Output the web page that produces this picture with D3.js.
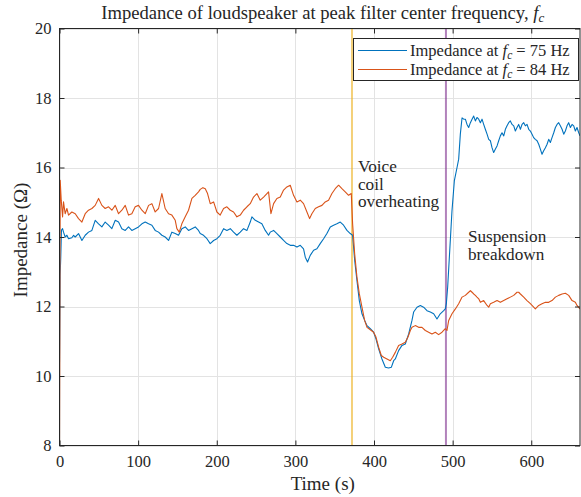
<!DOCTYPE html>
<html>
<head>
<meta charset="utf-8">
<script src="https://cdn.jsdelivr.net/npm/d3@7"></script>
<style>
  html, body { margin: 0; padding: 0; background: #fff; }
  svg { display: block; }
  text { font-family: "Liberation Serif", "Times New Roman", serif; fill: #262626; }
</style>
</head>
<body>
<svg id="chart" width="581" height="497"></svg>
<script>
// Impedance at fc = 75 Hz (time in s, impedance in ohm)
const timeA = [0,0.8,1.6,2.5,3.9,5.1,7.2,9.4,11.5,15.7,17.9,20,24.2,28.5,32.7,36.9,41.2,45.4,49.7,53.9,58.1,62.4,66.6,70.9,75.1,79.3,83.6,87.8,92,96.3,100.5,104.8,109,113.3,117.5,121.7,126,130.2,134.4,138.7,142.9,147.2,151.4,155.6,159.9,164.1,168.4,172.6,176.8,179,183.2,187.5,191.7,196,200.2,204.4,208.7,212.9,217.2,221.4,225.6,229.9,234.1,238.4,242.6,244.7,249,253.2,257.4,261.7,265.9,268,272.3,276.5,280.8,285,289.2,293.5,297.7,302,306.2,310.4,312.6,315.5,318.9,323.2,327.4,331.6,335.9,340.1,344.4,348.6,352.8,357.1,361.3,365.6,369.8,372.8,375.4,378.3,381.3,384.7,388.1,391.1,395.3,399.5,402.5,405.9,410.1,414.4,418.6,422,425,427.1,431.3,435.6,439.8,444.1,448.3,450.4,454.7,458.9,463.1,467.4,471.6,475.9,480.1,484.3,488.6,490.7,492,493.7,496.3,499.2,502.2,505.6,507.7,509.8,512,514.1,516.2,518.3,520.4,522.6,524.7,526.8,528.9,531,533.2,535.3,537.4,539.5,541.6,543.8,545.9,548,550.1,552.2,554.4,556.5,558.6,560.7,562.8,565,567.1,569.2,571.3,573.4,575.6,577.7,579.8,581.9,584,586.2,588.3,590.4,592.5,594.6,596.8,598.9,601,603.1,605.2,607.4,609.5,611.6,613.7,615.8,618,620.1,622.2,624.3,626.4,628.6,630.7,632.8,634.9,637,639.2,641.3,643.4,645.5,647.6,649.8,651.9,654,656.1,658.2,660.4,662];
const impedanceA = [10.4,12.9,13.4,14.2,14.24,14.14,14.0,14.05,13.95,13.98,14.05,14.0,14.1,13.9,14.05,14.14,14.19,14.48,14.38,14.29,14.43,14.34,14.24,14.48,14.43,14.24,14.19,14.29,14.19,14.24,14.29,14.38,14.43,14.38,14.34,14.19,14.14,14.05,14.0,13.9,14.14,14.1,14.05,14.24,14.29,14.19,14.24,14.29,14.19,14.1,14.05,13.95,13.81,13.9,13.95,14.05,14.24,14.19,14.24,14.14,14.05,14.14,14.24,14.19,14.43,14.58,14.48,14.43,14.38,14.19,14.05,14.14,14.19,14.1,14.0,13.9,13.81,13.76,13.76,13.71,13.76,13.66,13.42,13.28,13.47,13.62,13.66,13.81,13.95,14.1,14.29,14.34,14.38,14.43,14.34,14.19,14.1,14.05,13.33,12.75,12.17,11.79,11.6,11.45,11.36,11.26,11.07,10.78,10.49,10.25,10.23,10.25,10.44,10.49,10.73,10.88,10.92,11.21,11.6,11.84,11.98,12.03,11.98,11.88,11.84,11.79,11.64,11.79,11.88,11.93,12.08,12.56,13.6,14.76,15.62,16.0,16.24,16.96,17.43,17.39,17.39,17.24,17.15,17.29,17.39,17.48,17.34,17.44,17.39,17.29,17.39,17.24,17.1,16.96,16.81,16.77,16.57,16.43,16.53,16.62,16.77,16.91,17.0,16.91,17.1,17.2,17.29,17.34,17.24,17.2,17.05,17.15,17.24,17.1,17.24,17.29,17.2,17.24,17.1,17.05,16.96,16.86,16.81,16.77,16.67,16.53,16.38,16.48,16.57,16.67,16.81,16.72,16.86,17.0,17.15,17.24,17.29,17.2,17.1,16.96,17.05,17.2,17.29,17.15,17.24,17.2,17.05,17.15,17.0,16.91];

// Impedance at fc = 84 Hz (time in s, impedance in ohm)
const timeB = [0,0.9,2.2,3.9,5.1,7.2,9.4,11.5,15.7,20,24.2,28.5,32.7,36.9,41.2,45.4,49.7,53.9,58.1,62.4,66.6,70.9,75.1,79.3,83.6,87.8,92,96.3,100.5,104.8,109,113.3,117.5,121.7,126,130.2,134.4,138.7,142.9,147.2,149.3,152.3,155.6,159.9,164.1,168.4,172.6,176.8,179,182.4,185.4,188.3,191.7,196,200.2,204.4,208.7,212.9,217.2,221.4,225.6,229.9,234.1,238.4,242.6,246.8,251.1,255.3,259.6,263.8,265.9,268.9,272.3,276.5,280.8,285,289.2,293.5,297.7,302,306.2,310.4,314.7,318.1,321,325.3,329.5,333.8,338,342.2,346.5,350.7,355,359.2,363.4,367.7,371.1,372.8,375.4,378.3,381.3,384.7,388.1,391.1,395.3,399.5,402.5,405.9,409.3,412.3,416.5,420.7,423.7,427.1,431.3,435.6,439.8,443.2,446.2,448.3,452.5,456.8,461,465.3,469.5,473.7,478,482.2,486.5,490.7,492.8,495,499.2,503.5,507.7,512,516.2,520.4,522.6,524.7,526.8,528.9,531,533.2,535.3,539.5,543.8,545.9,548,552.2,556.5,560.7,565,569.2,573.4,577.7,581.9,584,586.2,590.4,594.6,598.9,603.1,605.2,609.5,613.7,618,622.2,626.4,630.7,634.9,639.2,643.4,647.6,651.9,656.1,658.2,662];
const impedanceB = [8.1,15.63,15.06,14.58,15.01,14.67,14.82,14.63,14.72,14.67,14.53,14.43,14.67,14.77,14.82,14.91,15.11,14.91,14.82,14.87,14.77,14.91,14.67,14.77,14.91,14.63,14.67,14.87,14.91,14.77,14.67,14.91,14.96,14.72,14.82,15.25,14.82,14.67,14.63,14.48,14.24,14.14,14.38,14.58,14.77,15.11,15.2,15.3,15.37,15.42,15.39,15.25,14.96,15.01,14.72,14.63,14.82,14.87,14.77,14.72,14.58,14.63,14.77,14.87,14.96,15.15,15.25,15.06,15.15,15.25,15.3,14.67,14.96,15.11,15.15,15.35,15.44,15.49,15.2,15.01,15.06,14.96,14.72,14.53,14.67,14.82,14.87,14.91,15.01,15.06,15.25,15.39,15.49,15.39,15.3,15.2,15.25,14.38,13.52,12.85,12.37,11.98,11.6,11.4,11.33,11.26,11.12,10.83,10.59,10.54,10.49,10.44,10.54,10.68,10.88,10.92,10.97,11.12,11.31,11.4,11.45,11.4,11.4,11.31,11.26,11.21,11.26,11.19,11.26,11.36,11.31,11.6,11.79,11.93,12.08,12.27,12.32,12.41,12.46,12.41,12.36,12.32,12.27,12.22,12.12,12.17,12.03,11.98,12.08,12.12,12.17,12.12,12.17,12.22,12.27,12.32,12.41,12.41,12.36,12.27,12.17,12.08,11.98,11.93,12.03,12.08,12.12,12.12,12.17,12.27,12.32,12.36,12.38,12.32,12.17,12.12,12.03,11.93];

// Event markers (s)
const eventTimes = [372, 491.5];
const eventLabels = [["Voice", "coil", "overheating"], ["Suspension", "breakdown"]];

const xTicks = [0, 100, 200, 300, 400, 500, 600];
const yTicks = [8, 10, 12, 14, 16, 18, 20];
const legendFreqs = [75, 84];

const colors = { a: "#0072BD", b: "#D95319", events: ["#EDB120", "#7E2F8E"] };
const serif = '"Liberation Serif", "Times New Roman", serif';

const svg = d3.select("#chart");
const plot = { left: 59.5, right: 580, top: 28.5, bottom: 445.5 };

const x = d3.scaleLinear().domain([0, 662]).range([plot.left, plot.right]);
const y = d3.scaleLinear().domain([8, 20]).range([plot.bottom, plot.top]);

// Grid
const grid = svg.append("g").attr("stroke", "#e3e3e3").attr("stroke-width", 1);
xTicks.forEach(t => grid.append("line")
  .attr("x1", Math.round(x(t)) + 0.5).attr("x2", Math.round(x(t)) + 0.5)
  .attr("y1", plot.top).attr("y2", plot.bottom));
yTicks.forEach(t => grid.append("line")
  .attr("x1", plot.left).attr("x2", plot.right)
  .attr("y1", Math.round(y(t)) + 0.5).attr("y2", Math.round(y(t)) + 0.5));

svg.append("defs").append("clipPath").attr("id", "clip")
  .append("rect").attr("x", plot.left).attr("y", plot.top)
  .attr("width", plot.right - plot.left).attr("height", plot.bottom - plot.top);

// Event lines
eventTimes.forEach((t, i) => svg.append("line")
  .attr("x1", x(t)).attr("x2", x(t)).attr("y1", plot.top).attr("y2", plot.bottom)
  .attr("stroke", colors.events[i]).attr("stroke-width", 2).attr("stroke-opacity", 0.6));

// Data lines
const line = d3.line().x(d => x(d[0])).y(d => y(d[1]));
const series = [
  { t: timeA, v: impedanceA, c: colors.a },
  { t: timeB, v: impedanceB, c: colors.b }
];
series.forEach(s => svg.append("path")
  .datum(s.t.map((t, i) => [t, s.v[i]]))
  .attr("clip-path", "url(#clip)")
  .attr("fill", "none").attr("stroke", s.c).attr("stroke-width", 1.1)
  .attr("stroke-linejoin", "round")
  .attr("d", line));

// Axes (ticks inward on all four sides)
const tickLen = 5;
const axisStyle = g => {
  g.attr("font-family", serif);
  g.selectAll("path, line").attr("stroke", "#262626");
  g.selectAll("text").style("font-family", serif).attr("fill", "#262626").attr("font-size", 16.5);
};
svg.append("g").attr("transform", `translate(0,${plot.bottom})`)
  .call(d3.axisBottom(x).tickValues(xTicks).tickSizeInner(-tickLen).tickSizeOuter(0).tickPadding(10).tickFormat(d3.format("d")))
  .call(axisStyle).call(g => g.select(".domain").remove());
svg.append("g").attr("transform", `translate(0,${plot.top})`)
  .call(d3.axisTop(x).tickValues(xTicks).tickSizeInner(-tickLen).tickSizeOuter(0).tickFormat(""))
  .call(axisStyle).call(g => g.select(".domain").remove());
svg.append("g").attr("transform", `translate(${plot.left},0)`)
  .call(d3.axisLeft(y).tickValues(yTicks).tickSizeInner(-tickLen).tickSizeOuter(0).tickPadding(8).tickFormat(d3.format("d")))
  .call(axisStyle).call(g => g.select(".domain").remove());
svg.append("g").attr("transform", `translate(${plot.right},0)`)
  .call(d3.axisRight(y).tickValues(yTicks).tickSizeInner(-tickLen).tickSizeOuter(0).tickFormat(""))
  .call(axisStyle).call(g => g.select(".domain").remove());

svg.append("rect").attr("x", plot.left).attr("y", plot.top)
  .attr("width", plot.right - plot.left).attr("height", plot.bottom - plot.top)
  .attr("fill", "none").attr("stroke", "#262626").attr("stroke-width", 1);

// Event annotations
const ann = [{ x: x(eventTimes[0]) + 6, y: 172 }, { x: x(eventTimes[1]) + 22, y: 242 }];
eventLabels.forEach((lines, i) => {
  const t = svg.append("text").attr("font-size", 17.2);
  lines.forEach((s, j) => t.append("tspan").attr("x", ann[i].x).attr("y", ann[i].y + j * 17.5).text(s));
});

// Title
const title = svg.append("text").attr("x", (plot.left + plot.right) / 2 + 3).attr("y", 19)
  .attr("text-anchor", "middle").attr("font-size", 18.6);
title.append("tspan").text("Impedance of loudspeaker at peak filter center frequency, ");
title.append("tspan").attr("font-style", "italic").text("f");
title.append("tspan").attr("font-size", 13).attr("font-style", "italic").attr("dy", 3).text("c");

// Axis labels
svg.append("text").attr("x", (plot.left + plot.right) / 2 + 3).attr("y", 490)
  .attr("text-anchor", "middle").attr("font-size", 19).text("Time (s)");
svg.append("text").attr("transform", `translate(27,${(plot.top + plot.bottom) / 2 + 3}) rotate(-90)`)
  .attr("text-anchor", "middle").attr("font-size", 19).text("Impedance (\u03A9)");

// Legend
const lg = svg.append("g");
lg.append("rect").attr("x", 353.5).attr("y", 38.5).attr("width", 225).attr("height", 42)
  .attr("fill", "#fff").attr("stroke", "#262626").attr("stroke-width", 1);
[colors.a, colors.b].forEach((c, i) => {
  const yy = 50.5 + i * 19;
  lg.append("line").attr("x1", 358).attr("x2", 407).attr("y1", yy).attr("y2", yy)
    .attr("stroke", c).attr("stroke-width", 1.1);
  const t = lg.append("text").attr("x", 410).attr("y", yy + 5.5).attr("font-size", 16.5);
  t.append("tspan").text("Impedance at ");
  t.append("tspan").attr("font-style", "italic").text("f");
  t.append("tspan").attr("font-size", 11.5).attr("font-style", "italic").attr("dy", 3).text("c");
  t.append("tspan").attr("dy", -3).text(` = ${legendFreqs[i]} Hz`);
});
</script>
</body>
</html>
